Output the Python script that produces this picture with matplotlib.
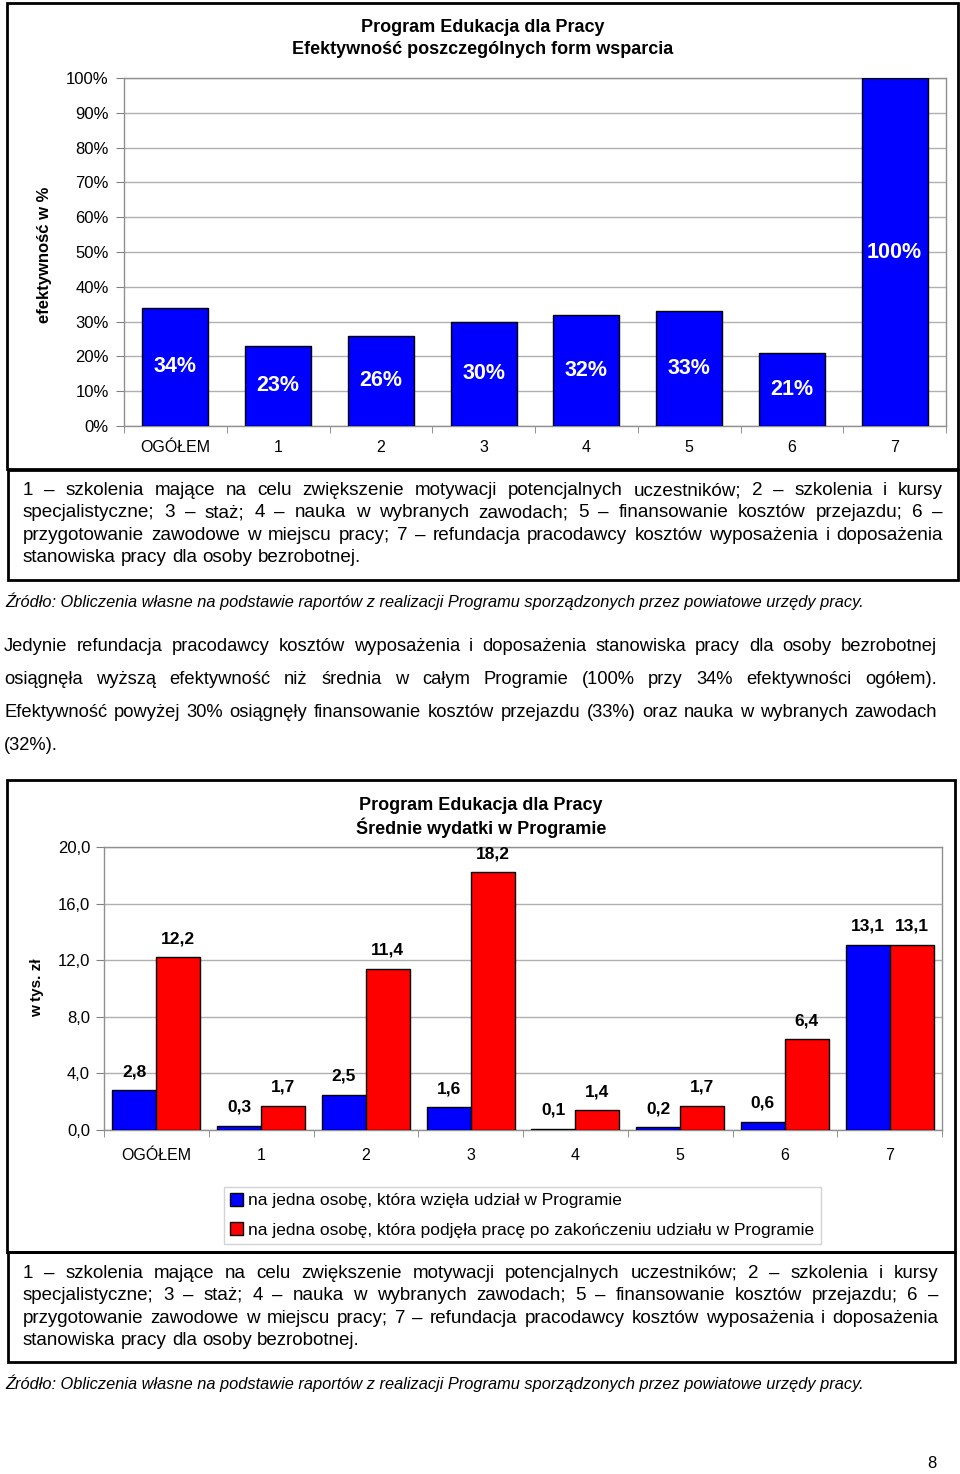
import matplotlib
matplotlib.use('Agg')
import matplotlib.pyplot as plt
from matplotlib.patches import Rectangle
import numpy as np

# dane - wykres 1 (efektywnosc)
kategorie = ['OGÓŁEM', '1', '2', '3', '4', '5', '6', '7']
efektywnosc = [34, 23, 26, 30, 32, 33, 21, 100]

# dane - wykres 2 (srednie wydatki, tys. zl)
wydatki_uczestnik = [2.8, 0.3, 2.5, 1.6, 0.1, 0.2, 0.6, 13.1]
wydatki_praca = [12.2, 1.7, 11.4, 18.2, 1.4, 1.7, 6.4, 13.1]
legenda = ['na jedna osobę, która wzięła udział w Programie',
           'na jedna osobę, która podjęła pracę po zakończeniu udziału w Programie']

W, H = 960, 1474
fig = plt.figure(figsize=(W / 100, H / 100), dpi=100)
plt.rcParams['font.family'] = ['Liberation Sans', 'DejaVu Sans']

BODY = ['Liberation Sans', 'DejaVu Sans']


def fx(x):
    return x / W


def fy(y):
    return 1 - y / H


def ramka(x0, y0, x1, y1, lw=2):
    fig.patches.append(Rectangle((fx(x0), fy(y1)), fx(x1) - fx(x0), fy(y0) - fy(y1),
                                 transform=fig.transFigure, fill=False,
                                 edgecolor='black', linewidth=lw))


def szerokosc(s, **kw):
    r = fig.canvas.get_renderer()
    t = fig.text(0, 0, s, **kw)
    w = t.get_window_extent(r).width
    t.remove()
    return w


def wyjustuj(linie, x0, x1, ys, rozmiar, **kw):
    # dobor rozmiaru tak, zeby najgestsza linia miescila sie z normalnymi spacjami
    spacja = szerokosc('a a', fontsize=rozmiar, **kw) - szerokosc('aa', fontsize=rozmiar, **kw)
    naturalne = [szerokosc(l.replace(' ', ''), fontsize=rozmiar, **kw) + spacja * l.count(' ')
                 for l in linie[:-1]]
    rozmiar = rozmiar * (x1 - x0) / max(naturalne) * 0.985
    r = fig.canvas.get_renderer()
    spacja = szerokosc('a a', fontsize=rozmiar, **kw) - szerokosc('aa', fontsize=rozmiar, **kw)
    for i, (linia, y) in enumerate(zip(linie, ys)):
        slowa = linia.split(' ')
        teksty = [fig.text(0, 0, s, va='baseline', ha='left', fontsize=rozmiar, **kw) for s in slowa]
        szer = [t.get_window_extent(r).width for t in teksty]
        if len(slowa) > 1 and i < len(linie) - 1:
            odstep = (x1 - x0 - sum(szer)) / (len(slowa) - 1)
        else:
            odstep = spacja
        x = x0
        for t, s in zip(teksty, szer):
            t.set_position((fx(x), fy(y)))
            x += s + odstep


def os_x_kategorie(ax, n, pad):
    ax.set_xlim(-0.5, n - 0.5)
    ax.set_xticks(range(n))
    ax.set_xticklabels(kategorie)
    ax.set_xticks(np.arange(-0.5, n, 1), minor=True)
    ax.tick_params(axis='x', which='major', length=0, pad=pad, labelsize=11.5)
    ax.tick_params(axis='x', which='minor', length=5, color='#808080')
    for s in ax.spines.values():
        s.set_color('#909090')
        s.set_linewidth(1)
    ax.yaxis.grid(True, color='#b0b0b0', linewidth=1)
    ax.set_axisbelow(True)


# ---------------- wykres 1 ----------------
ramka(7, 3, 958, 469)
ax1 = fig.add_axes([fx(124), fy(426), fx(946) - fx(124), fy(78) - fy(426)])
x = np.arange(len(kategorie))
ax1.bar(x, efektywnosc, width=0.64, color='#0000ff', edgecolor='black', linewidth=1, zorder=3)
for xi, v in zip(x, efektywnosc):
    ax1.text(xi, v / 2, f'{v}%', ha='center', va='center', color='white',
             fontsize=15.5, fontweight='bold', zorder=4)
ax1.set_ylim(0, 100)
ax1.set_yticks(range(0, 101, 10))
ax1.set_yticklabels([f'{v}%' for v in range(0, 101, 10)])
ax1.tick_params(axis='y', length=6, color='#808080', labelsize=12, pad=5)
os_x_kategorie(ax1, len(kategorie), 10)
fig.text(fx(45), fy(255), 'efektywność w %', rotation=90, ha='center', va='center',
         fontsize=12, fontweight='bold')
fig.text(fx(483), fy(27), 'Program Edukacja dla Pracy', ha='center', va='center',
         fontsize=13, fontweight='bold')
fig.text(fx(483), fy(50), 'Efektywność poszczególnych form wsparcia', ha='center', va='center',
         fontsize=13, fontweight='bold')

# przypis 1
ramka(8, 470, 958, 580)
przypis = ['1 – szkolenia mające na celu zwiększenie motywacji potencjalnych uczestników; 2 – szkolenia i kursy',
           'specjalistyczne; 3 – staż; 4 – nauka w wybranych zawodach; 5 – finansowanie kosztów przejazdu; 6 –',
           'przygotowanie zawodowe w miejscu pracy; 7 – refundacja pracodawcy kosztów wyposażenia i doposażenia',
           'stanowiska pracy dla osoby bezrobotnej.']
wyjustuj(przypis, 23, 943, [495, 517, 540, 562], 12.5, family=BODY)

zrodlo = 'Źródło: Obliczenia własne na podstawie raportów z realizacji Programu sporządzonych przez powiatowe urzędy pracy.'
fig.text(fx(5), fy(601), zrodlo, ha='left', va='center', fontsize=11.8, style='italic', family=BODY)

akapit = ['Jedynie refundacja pracodawcy kosztów wyposażenia i doposażenia stanowiska pracy dla osoby bezrobotnej',
          'osiągnęła wyższą efektywność niż średnia w całym Programie (100% przy 34% efektywności ogółem).',
          'Efektywność powyżej 30% osiągnęły finansowanie kosztów przejazdu (33%) oraz nauka w wybranych zawodach',
          '(32%).']
wyjustuj(akapit, 4, 937, [651, 684, 717, 750], 12.5, family=BODY)

# ---------------- wykres 2 ----------------
ramka(7, 780, 955, 1252)
ax2 = fig.add_axes([fx(104), fy(1130), fx(942) - fx(104), fy(847) - fy(1130)])
b1 = ax2.bar(x - 0.21, wydatki_uczestnik, width=0.42, color='#0000ff', edgecolor='black',
             linewidth=1, zorder=3, label=legenda[0])
b2 = ax2.bar(x + 0.21, wydatki_praca, width=0.42, color='#ff0000', edgecolor='black',
             linewidth=1, zorder=3, label=legenda[1])
for xi, v in zip(x, wydatki_uczestnik):
    ax2.annotate(f'{v:.1f}'.replace('.', ','), (xi - 0.21, v), xytext=(0, 8),
                 textcoords='offset points', ha='center', va='bottom',
                 fontsize=12.5, fontweight='bold')
for xi, v in zip(x, wydatki_praca):
    ax2.annotate(f'{v:.1f}'.replace('.', ','), (xi + 0.21, v), xytext=(0, 8),
                 textcoords='offset points', ha='center', va='bottom',
                 fontsize=12.5, fontweight='bold')
ax2.set_ylim(0, 20)
ax2.set_yticks(range(0, 21, 4))
ax2.set_yticklabels([f'{v},0' for v in range(0, 21, 4)])
ax2.tick_params(axis='y', length=6, color='#808080', labelsize=12, pad=4)
os_x_kategorie(ax2, len(kategorie), 13)
fig.text(fx(37), fy(988), 'w tys. zł', rotation=90, ha='center', va='center',
         fontsize=11, fontweight='bold')
fig.text(fx(481), fy(805), 'Program Edukacja dla Pracy', ha='center', va='center',
         fontsize=13, fontweight='bold')
fig.text(fx(481), fy(828), 'Średnie wydatki w Programie', ha='center', va='center',
         fontsize=13, fontweight='bold')

leg = fig.legend(handles=[b1, b2], loc='upper left',
                 bbox_to_anchor=(fx(224), fy(1187)), fontsize=12.5,
                 frameon=True, fancybox=False, edgecolor='#c8c8c8',
                 handlelength=0.75, handleheight=0.75, handletextpad=0.3,
                 borderpad=0.35, labelspacing=0.8, borderaxespad=0)

# przypis 2
ramka(8, 1252, 955, 1362)
wyjustuj(przypis, 23, 938, [1278, 1300, 1323, 1345], 12.5, family=BODY)
fig.text(fx(5), fy(1383), zrodlo, ha='left', va='center', fontsize=11.8, style='italic', family=BODY)

fig.text(fx(932), fy(1464), '8', ha='center', va='center', fontsize=12, family=BODY)

fig.savefig('out.png', dpi=100)
